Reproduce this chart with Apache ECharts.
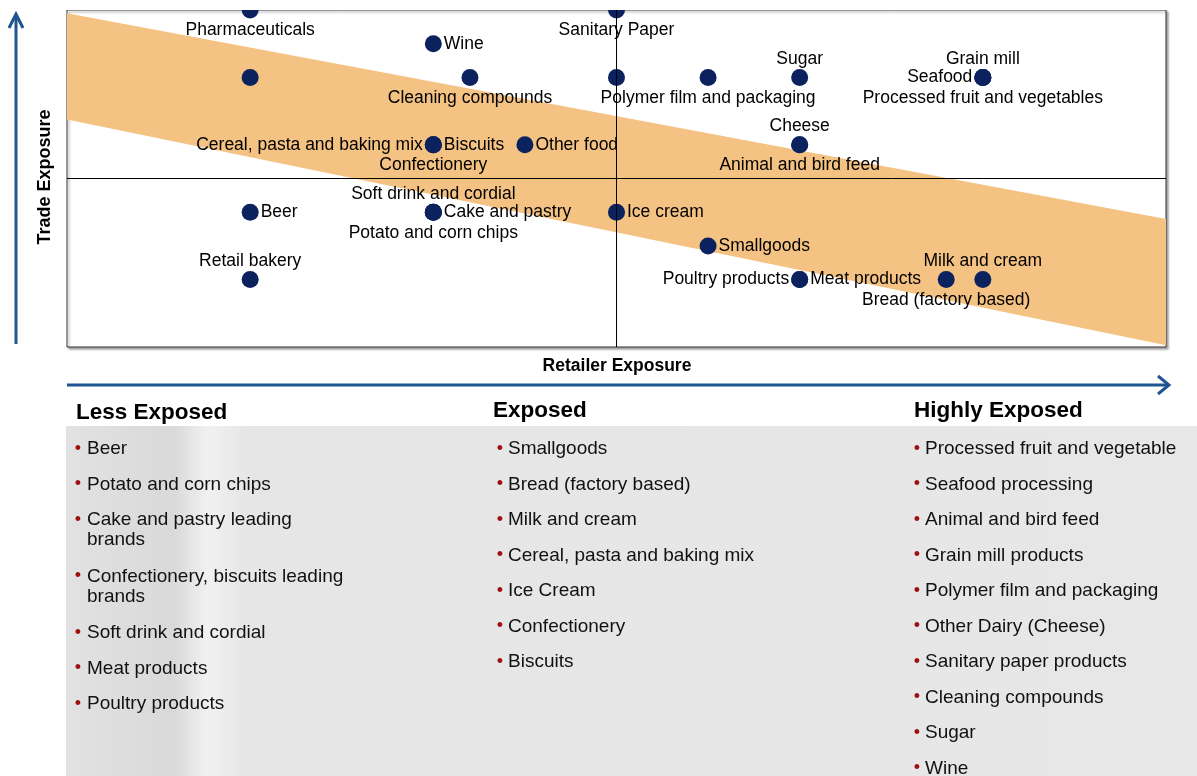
<!DOCTYPE html>
<html>
<head>
<meta charset="utf-8">
<script src="https://cdn.jsdelivr.net/npm/echarts@6/dist/echarts.min.js"></script>
<style>
  html,body{margin:0;padding:0;background:#fff;}
  #main{width:1197px;height:776px;}
</style>
</head>
<body>
<div id="main"></div>
<script>
// scatter points (retailer exposure x, trade exposure y)
var pointNames = ['Pharmaceuticals','Sanitary Paper','Wine','','Cleaning compounds','','Polymer film and packaging','Sugar',
  'Grain mill','Seafood','Processed fruit and vegetables','Cereal, pasta and baking mix','Biscuits','Confectionery',
  'Other food','Cheese','Animal and bird feed','Beer','Soft drink and cordial','Cake and pastry','Potato and corn chips',
  'Ice cream','Smallgoods','Retail bakery','Poultry products','Meat products','Milk and cream','Bread (factory based)'];
var pointX = [2,6,4,2,4.4,6,7,8,10,10,10,4,4,4,5,8,8,2,4,4,4,6,7,2,8,8,10,9.6];
var pointY = [10,10,9,8,8,8,8,8,8,8,8,6,6,6,6,6,6,4,4,4,4,4,3,2,2,2,2,2];

// orange band corners
var bandX = [0,12,12,0];
var bandY = [9.9,3.8,0.05,6.75];

// quadrant dividers
var midX = 6;
var midY = 5;

// lists under the chart
var groupTitles = ['Less Exposed','Exposed','Highly Exposed'];
var lessItems = ['Beer','Potato and corn chips','Cake and pastry leading\nbrands','Confectionery, biscuits leading\nbrands',
  'Soft drink and cordial','Meat products','Poultry products'];
var exposedItems = ['Smallgoods','Bread (factory based)','Milk and cream','Cereal, pasta and baking mix','Ice Cream',
  'Confectionery','Biscuits'];
var highItems = ['Processed fruit and vegetable','Seafood processing','Animal and bird feed','Grain mill products',
  'Polymer film and packaging','Other Dairy (Cheese)','Sanitary paper products','Cleaning compounds','Sugar','Wine'];

var chart = echarts.init(document.getElementById('main'));
var FONT = '"Liberation Sans", Arial, sans-serif';
var blue = '#1F5590';

var labelSide = {
  'Pharmaceuticals':'bottom','Sanitary Paper':'bottom','Wine':'right','Cleaning compounds':'bottom',
  'Polymer film and packaging':'bottom','Sugar':'top','Grain mill':'top','Seafood':'left',
  'Processed fruit and vegetables':'bottom','Cereal, pasta and baking mix':'left','Biscuits':'right',
  'Confectionery':'bottom','Other food':'right','Cheese':'top','Animal and bird feed':'bottom','Beer':'right',
  'Soft drink and cordial':'top','Cake and pastry':'right','Potato and corn chips':'bottom','Ice cream':'right',
  'Smallgoods':'right','Retail bakery':'top','Poultry products':'left','Meat products':'right',
  'Milk and cream':'top','Bread (factory based)':'bottom'
};
var sideDist = {top:1,bottom:3,left:2,right:2};

var scatterData = [];
for(var i=0;i<pointNames.length;i++)
{
  var side = labelSide[pointNames[i]];
  scatterData.push({
    name: pointNames[i],
    value: [pointX[i], pointY[i]],
    label: side ? {show:true, position:side, distance:sideDist[side]} : {show:false}
  });
}

// graphic: arrows, axis titles, lists
var graphics = [];
graphics.push({type:'rect', z:100, shape:{x:60,y:0,width:1120,height:10}, style:{fill:'#fff'}, silent:true});
graphics.push({type:'line', shape:{x1:16,y1:344,x2:16,y2:16}, style:{stroke:blue,lineWidth:3}});
graphics.push({type:'polyline', shape:{points:[[9,28],[16,14],[23,28]]}, style:{stroke:blue,lineWidth:3,fill:null}});
graphics.push({type:'line', shape:{x1:67,y1:385,x2:1168,y2:385}, style:{stroke:blue,lineWidth:3}});
graphics.push({type:'polyline', shape:{points:[[1158,376],[1169,385],[1158,394]]}, style:{stroke:blue,lineWidth:3,fill:null}});
graphics.push({type:'text', x:45, y:177, rotation:Math.PI/2,
  style:{text:'Trade Exposure', font:'bold 18px '+FONT, fill:'#000', align:'center', verticalAlign:'middle',
    textAlign:'center', textVerticalAlign:'middle'}});
graphics.push({type:'text', x:617, y:366,
  style:{text:'Retailer Exposure', font:'bold 17.5px '+FONT, fill:'#000', align:'center', verticalAlign:'middle',
    textAlign:'center', textVerticalAlign:'middle'}});

// gray panel
graphics.push({type:'rect', shape:{x:66,y:426,width:1131,height:350}, z:-1,
  style:{fill:new echarts.graphic.LinearGradient(0,0,1,0,[
    {offset:0,color:'#e2e2e2'},{offset:0.095,color:'#d9d9d9'},{offset:0.125,color:'#f1f1f1'},
    {offset:0.16,color:'#e6e6e6'},{offset:1,color:'#e7e7e7'}])}});

var cols = [
  {titleX:76, titleY:413, bulletX:78, textX:87, items:lessItems},
  {titleX:493, titleY:411, bulletX:500, textX:508, items:exposedItems},
  {titleX:914, titleY:411, bulletX:917, textX:925, items:highItems}
];
cols.forEach(function(c, ci)
{
  graphics.push({type:'text', x:c.titleX, y:c.titleY,
    style:{text:groupTitles[ci], font:'bold 22.5px '+FONT, fill:'#000', align:'left', verticalAlign:'middle',
      textAlign:'left', textVerticalAlign:'middle'}});
  var extra = 0;
  c.items.forEach(function(t, k)
  {
    var cy = 450 + 35.5*k + 21*extra;
    graphics.push({type:'text', x:c.bulletX, y:cy-1,
      style:{text:'\u2022', font:'18px '+FONT, fill:'#A01010', align:'center', verticalAlign:'middle',
        textAlign:'center', textVerticalAlign:'middle'}});
    graphics.push({type:'text', x:c.textX, y:cy-11,
      style:{text:t, font:'19px '+FONT, fill:'#111', lineHeight:20, align:'left', verticalAlign:'top',
        textAlign:'left', textVerticalAlign:'top'}});
    extra += t.split('\n').length-1;
  });
});

var option = {
  backgroundColor:'#fff',
  animation:false,
  grid:{
    left:67, top:10, right:31, bottom:429,
    show:true, backgroundColor:'#fff', borderColor:'#333', borderWidth:1,
    shadowColor:'rgba(0,0,0,0.35)', shadowBlur:2, shadowOffsetX:2, shadowOffsetY:2
  },
  xAxis:{type:'value', min:0, max:12, axisLine:{show:false}, axisTick:{show:false}, axisLabel:{show:false}, splitLine:{show:false}},
  yAxis:{type:'value', min:0, max:10, axisLine:{show:false}, axisTick:{show:false}, axisLabel:{show:false}, splitLine:{show:false}},
  graphic:graphics,
  series:[
    {
      type:'custom',
      silent:true,
      z:1,
      data:bandX.map(function(x, i){return [x, bandY[i]];}),
      renderItem:function(params, api)
      {
        if(params.dataIndex!==0) return;
        var pts = bandX.map(function(x, i){return api.coord([x, bandY[i]]);});
        return {type:'polygon', shape:{points:pts}, style:{fill:'#F4C282'}};
      },
      markLine:{
        silent:true, symbol:'none', label:{show:false},
        lineStyle:{color:'#000', width:1, type:'solid'},
        data:[{xAxis:midX},{yAxis:midY}]
      }
    },
    {
      type:'scatter',
      z:3,
      clip:false,
      symbolSize:17,
      itemStyle:{color:'#0B225F', opacity:1},
      label:{color:'#000', fontSize:17.5, fontFamily:FONT, formatter:'{b}'},
      data:scatterData
    }
  ]
};
chart.setOption(option);
</script>
</body>
</html>
